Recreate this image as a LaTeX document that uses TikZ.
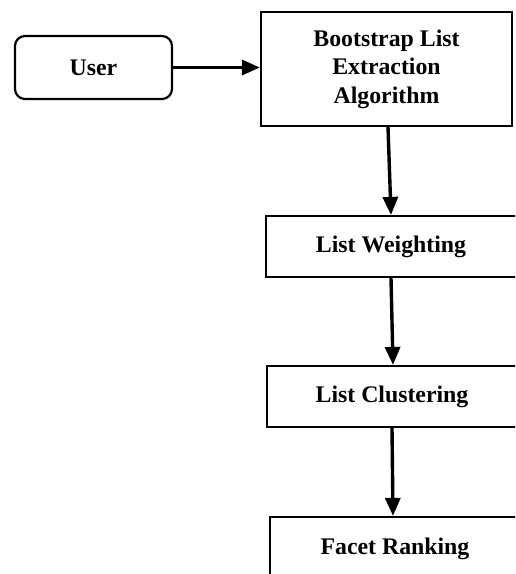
\documentclass[tikz,border=0pt]{standalone}
\usepackage{fontspec}
\setmainfont{Liberation Serif}
\usetikzlibrary{arrows.meta}
\begin{document}
\begin{tikzpicture}[x=1pt,y=-1pt,
  box/.style={draw=black,line width=2.2pt,fill=white,inner sep=0pt,align=center,
    font=\fontsize{23.8}{28.5}\selectfont\bfseries},
  wide/.style={box,minimum width=260pt,minimum height=61pt},
  conn/.style={line width=3.4pt,-{Triangle[length=18pt,width=15pt]}}]
\useasboundingbox (0,0) rectangle (515,574);
\clip (0,0) rectangle (515,574);
\node[box,rounded corners=10pt,minimum width=157pt,minimum height=63pt] (user) at (93.5,67.5) {User};
\node[box,minimum width=251pt,minimum height=114pt] (bsl) at (386.5,69) {Bootstrap List\\Extraction\\Algorithm};
\node[wide] (lw) at (396,246.5) {\makebox[240pt][l]{\makebox[230pt]{List Weighting}}};
\node[wide] (lc) at (397,396.5) {\makebox[240pt][l]{\makebox[230pt]{List Clustering}}};
\node[wide,minimum height=63pt] (fr) at (400,548.5) {\makebox[240pt][l]{\makebox[230pt]{Facet Ranking}}};
\draw[conn] (user.east) -- (bsl.west |- user.east);
\draw[conn] ([xshift=1.5pt]bsl.south) -- ([xshift=-5pt]lw.north);
\draw[conn] ([xshift=-5pt]lw.south) -- ([xshift=-4pt]lc.north);
\draw[conn] ([xshift=-5pt]lc.south) -- ([xshift=-7pt]fr.north);
\end{tikzpicture}
\end{document}
